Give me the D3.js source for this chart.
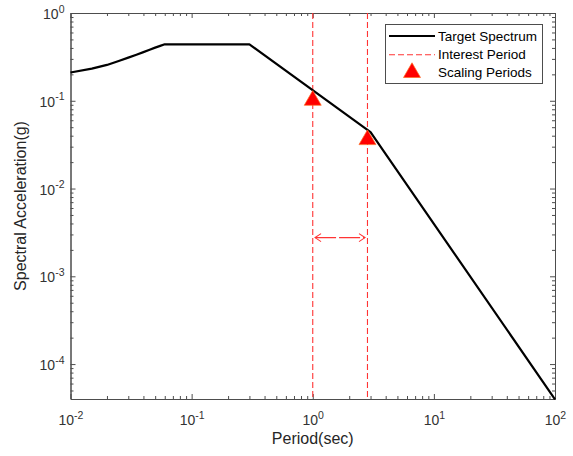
<!DOCTYPE html>
<html>
<head>
<meta charset="utf-8">
<script src="https://cdn.jsdelivr.net/npm/d3@7"></script>
<style>
  body { margin: 0; background: #fff; }
  svg { font-family: "Liberation Sans", Arial, sans-serif; }
</style>
</head>
<body>
<svg id="chart" width="573" height="456"></svg>
<script>
// target spectrum (period in sec, Sa in g)
let periods = [0.01, 0.015, 0.02, 0.025, 0.03, 0.035, 0.04, 0.045, 0.05, 0.055, 0.06, 0.3, 3, 100];
let spectrum = [0.21, 0.232, 0.256, 0.284, 0.31, 0.335, 0.358, 0.381, 0.403, 0.422, 0.44, 0.44, 0.044, 3.96e-5];

// interest period bounds
let interestPeriods = [1, 2.83];

// scaling periods (triangles)
let scalingT = [1, 2.83];
let scalingSa = [0.101, 0.036];

// the double arrow between the interest lines
let arrowT = [1.045, 2.7];
let arrowSa = 0.00276;

let xDecades = [0.01, 0.1, 1, 10, 100];
let yDecades = [1e-4, 1e-3, 1e-2, 1e-1, 1];

let legendLabels = ['Target Spectrum', 'Interest Period', 'Scaling Periods'];

let pLeft = 70.5, pRight = 555, pTop = 13, pBottom = 399;

let svg = d3.select('#chart');

let x = d3.scaleLog().domain([0.01, 100]).range([pLeft, pRight]);
let y = d3.scaleLog().domain([4e-5, 1]).range([pBottom, pTop]);

// minor ticks 2..9 in each decade, kept inside the domains
function minors(scale) {
  let d = scale.domain(), out = [];
  for (let e = -6; e <= 3; e++) {
    for (let m = 2; m <= 9; m++) {
      let v = m * Math.pow(10, e);
      if (v > d[0] && v < d[1]) out.push(v);
    }
  }
  return out;
}

let axisColor = '#4d4d4d';
let dashRed = '#ff3434';

function styleAxis(g) {
  g.select('.domain').attr('stroke', axisColor);
  g.selectAll('.tick line').attr('stroke', axisColor);
}

// bottom
svg.append('g')
  .attr('transform', 'translate(0,' + pBottom + ')')
  .call(d3.axisBottom(x).tickValues(minors(x)).tickSizeInner(-3).tickSizeOuter(0).tickFormat(''))
  .call(styleAxis);
let xb = svg.append('g')
  .attr('transform', 'translate(0,' + pBottom + ')')
  .call(d3.axisBottom(x).tickValues(xDecades).tickSizeInner(-5).tickSizeOuter(0).tickFormat(() => '10'))
  .call(styleAxis);
xb.selectAll('.tick text')
  .attr('y', 26).attr('dy', null)
  .attr('font-size', 14).attr('fill', '#333')
  .append('tspan').attr('dy', -6.5).attr('font-size', 10.5)
  .text(d => Math.round(Math.log10(d)));

// top
svg.append('g')
  .attr('transform', 'translate(0,' + pTop + ')')
  .call(d3.axisTop(x).tickValues(minors(x)).tickSizeInner(-3).tickSizeOuter(0).tickFormat(''))
  .call(styleAxis);
svg.append('g')
  .attr('transform', 'translate(0,' + pTop + ')')
  .call(d3.axisTop(x).tickValues(xDecades).tickSizeInner(-5).tickSizeOuter(0).tickFormat(''))
  .call(styleAxis);

// left
svg.append('g')
  .attr('transform', 'translate(' + pLeft + ',0)')
  .call(d3.axisLeft(y).tickValues(minors(y)).tickSizeInner(-3).tickSizeOuter(0).tickFormat(''))
  .call(styleAxis);
let yl = svg.append('g')
  .attr('transform', 'translate(' + pLeft + ',0)')
  .call(d3.axisLeft(y).tickValues(yDecades).tickSizeInner(-5).tickSizeOuter(0).tickFormat(() => '10'))
  .call(styleAxis);
yl.selectAll('.tick text')
  .attr('x', -6).attr('y', 5.5).attr('dy', null)
  .attr('font-size', 14).attr('fill', '#333')
  .append('tspan').attr('dy', -6.5).attr('font-size', 10.5)
  .text(d => Math.round(Math.log10(d)));

// right
svg.append('g')
  .attr('transform', 'translate(' + pRight + ',0)')
  .call(d3.axisRight(y).tickValues(minors(y)).tickSizeInner(-3).tickSizeOuter(0).tickFormat(''))
  .call(styleAxis);
svg.append('g')
  .attr('transform', 'translate(' + pRight + ',0)')
  .call(d3.axisRight(y).tickValues(yDecades).tickSizeInner(-5).tickSizeOuter(0).tickFormat(''))
  .call(styleAxis);

// interest period lines
svg.selectAll('.interest')
  .data(interestPeriods)
  .enter()
  .append('line')
  .attr('class', 'interest')
  .attr('x1', d => x(d)).attr('x2', d => x(d))
  .attr('y1', pTop).attr('y2', pBottom)
  .attr('stroke', dashRed)
  .attr('stroke-width', 1.1)
  .attr('stroke-dasharray', '6,3');

// target spectrum
let line = d3.line()
  .x((d, i) => x(periods[i]))
  .y(d => y(d));

svg.append('path')
  .datum(spectrum)
  .attr('d', line)
  .attr('fill', 'none')
  .attr('stroke', '#000')
  .attr('stroke-width', 2.2)
  .attr('stroke-linejoin', 'round');

// scaling period markers
let tri = d3.symbol().type(d3.symbolTriangle).size(125);
svg.selectAll('.scaling')
  .data(scalingSa)
  .enter()
  .append('path')
  .attr('class', 'scaling')
  .attr('d', tri)
  .attr('transform', (d, i) => 'translate(' + x(scalingT[i]) + ',' + y(d) + ')')
  .attr('fill', '#ff0000')
  .attr('stroke', '#ff6a1f')
  .attr('stroke-width', 0.7);

// double arrow
let ax1 = x(arrowT[0]), ax2 = x(arrowT[1]), ay = y(arrowSa);
svg.append('line')
  .attr('x1', ax1).attr('x2', ax2)
  .attr('y1', ay).attr('y2', ay)
  .attr('stroke', dashRed)
  .attr('stroke-width', 1.1)
  .attr('stroke-dasharray', '21,3');
svg.append('path')
  .attr('d', 'M' + (ax1 + 6) + ',' + (ay - 4) + 'L' + ax1 + ',' + ay + 'L' + (ax1 + 6) + ',' + (ay + 4)
    + 'M' + (ax2 - 6) + ',' + (ay - 4) + 'L' + ax2 + ',' + ay + 'L' + (ax2 - 6) + ',' + (ay + 4))
  .attr('fill', 'none')
  .attr('stroke', dashRed)
  .attr('stroke-width', 1.1);

// axis labels
svg.append('text')
  .attr('x', (pLeft + pRight) / 2)
  .attr('y', 444)
  .attr('text-anchor', 'middle')
  .attr('font-size', 16)
  .attr('fill', '#262626')
  .text('Period(sec)');

svg.append('text')
  .attr('transform', 'translate(26,' + (pTop + pBottom) / 2 + ') rotate(-90)')
  .attr('text-anchor', 'middle')
  .attr('font-size', 16)
  .attr('fill', '#262626')
  .text('Spectral Acceleration(g)');

// legend
let legend = svg.append('g').attr('id', 'legend');
legend.append('rect')
  .attr('x', 385.5).attr('y', 24.5)
  .attr('width', 157).attr('height', 59)
  .attr('fill', '#fff')
  .attr('stroke', axisColor)
  .attr('stroke-width', 1);

let rows = legend.selectAll('.legend-label')
  .data(legendLabels)
  .enter()
  .append('g')
  .attr('class', 'legend-label')
  .attr('transform', (d, i) => 'translate(0,' + (36 + i * 18.3) + ')');

rows.append('text')
  .attr('x', 438)
  .attr('y', 4.8)
  .attr('font-size', 13.5)
  .attr('fill', '#000')
  .text(d => d);

rows.filter((d, i) => i === 0).append('line')
  .attr('x1', 389).attr('x2', 435)
  .attr('stroke', '#000').attr('stroke-width', 2.2);
rows.filter((d, i) => i === 1).append('line')
  .attr('x1', 389).attr('x2', 435)
  .attr('y1', 0.5).attr('y2', 0.5)
  .attr('stroke', dashRed).attr('stroke-width', 1.1)
  .attr('stroke-dasharray', '6,3');
rows.filter((d, i) => i === 2).append('path')
  .attr('d', tri)
  .attr('transform', 'translate(412,0)')
  .attr('fill', '#ff0000')
  .attr('stroke', '#ff6a1f')
  .attr('stroke-width', 0.7);
</script>
</body>
</html>
